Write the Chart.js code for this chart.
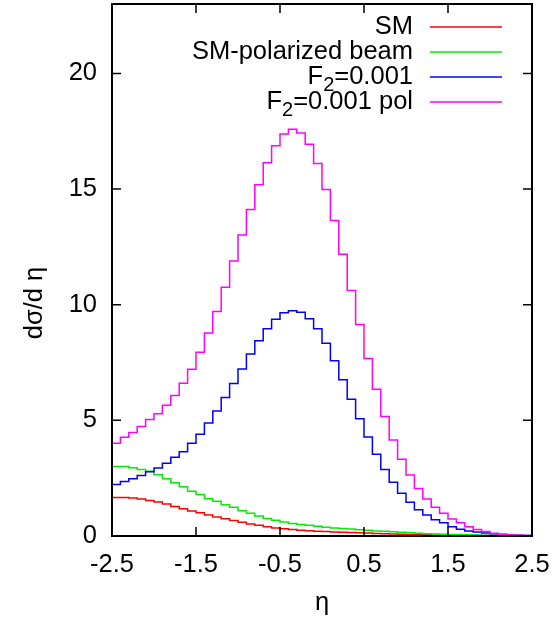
<!DOCTYPE html>
<html><head><meta charset="utf-8">
<script src="https://cdn.jsdelivr.net/npm/chart.js@4/dist/chart.umd.min.js"></script>
<style>html,body{margin:0;padding:0;background:#fff;}#wrap{width:556px;height:621px;position:relative;}</style>
</head><body><div id="wrap"><canvas id="c" width="556" height="621"></canvas></div>
<script>
// bin edges in eta (50 bins of width 0.1)
const etaEdges = [-2.5,-2.4,-2.3,-2.2,-2.1,-2.0,-1.9,-1.8,-1.7,-1.6,-1.5,-1.4,-1.3,-1.2,-1.1,-1.0,-0.9,-0.8,-0.7,-0.6,-0.5,-0.4,-0.3,-0.2,-0.1,0.0,0.1,0.2,0.3,0.4,0.5,0.6,0.7,0.8,0.9,1.0,1.1,1.2,1.3,1.4,1.5,1.6,1.7,1.8,1.9,2.0,2.1,2.2,2.3,2.4,2.5];

const smValues = [1.66,1.66,1.64,1.60,1.54,1.47,1.38,1.28,1.18,1.08,1.01,0.91,0.82,0.75,0.67,0.59,0.52,0.46,0.40,0.35,0.31,0.28,0.25,0.23,0.21,0.19,0.17,0.16,0.15,0.14,0.13,0.11,0.10,0.09,0.08,0.07,0.06,0.05,0.04,0.04,0.03,0.03,0.02,0.02,0.02,0.01,0.01,0.01,0.01,0.00];
const smPolValues = [3.00,3.00,2.95,2.87,2.80,2.65,2.48,2.30,2.13,1.93,1.79,1.61,1.50,1.35,1.24,1.09,0.98,0.86,0.76,0.68,0.61,0.54,0.50,0.46,0.42,0.38,0.35,0.32,0.30,0.27,0.25,0.22,0.20,0.18,0.16,0.14,0.12,0.10,0.09,0.08,0.07,0.06,0.05,0.04,0.03,0.03,0.02,0.02,0.01,0.01];
const f2Values = [2.23,2.36,2.48,2.62,2.78,2.94,3.14,3.40,3.64,4.01,4.40,4.89,5.40,5.99,6.59,7.22,7.87,8.44,8.96,9.37,9.65,9.74,9.67,9.39,8.96,8.33,7.58,6.76,5.91,5.07,4.28,3.53,2.88,2.32,1.85,1.46,1.14,0.91,0.70,0.57,0.40,0.29,0.22,0.17,0.13,0.10,0.07,0.05,0.03,0.02];
const f2PolValues = [4.01,4.27,4.48,4.73,5.04,5.29,5.65,6.07,6.60,7.21,7.94,8.78,9.71,10.75,11.89,13.01,14.12,15.19,16.14,16.87,17.38,17.58,17.42,16.94,16.10,14.98,13.64,12.18,10.61,9.14,7.67,6.34,5.17,4.15,3.32,2.64,2.05,1.60,1.24,0.98,0.74,0.57,0.40,0.28,0.19,0.12,0.08,0.05,0.03,0.02];

const seriesLabels = ['SM','SM-polarized beam','F\u2082=0.001','F\u2082=0.001 pol'];
const seriesColors = ['#ff0000','#00ee00','#0000ff','#ff00ff'];
const xTickValues = [-2.5,-1.5,-0.5,0.5,1.5,2.5];
const yTickValues = [0,5,10,15,20];
const xTitle = '\u03b7';
const yTitle = 'd\u03c3/d \u03b7';

const FONT = "'Liberation Sans', Arial, Helvetica, sans-serif";
const FS = 25.5;

function stepPoints(vals){
  return etaEdges.map((x,i)=>({x:x, y: vals[Math.min(i, vals.length-1)]}));
}
const allSeries = [smValues, smPolValues, f2Values, f2PolValues];
const datasets = allSeries.map((vals,i)=>({
  label: seriesLabels[i],
  data: stepPoints(vals),
  borderColor: seriesColors[i],
  backgroundColor: seriesColors[i],
  borderWidth: 1.5,
  pointRadius: 0,
  fill: false,
  stepped: 'before',
  order: 4 - i
}));

const framePlugin = {
  id: 'frame',
  afterDraw(chart){
    const ctx = chart.ctx, a = chart.chartArea;
    const xs = chart.scales.x, ys = chart.scales.y;
    ctx.save();
    ctx.strokeStyle = '#000';
    ctx.lineWidth = 1.5;
    const TL = 9;
    ctx.beginPath();
    xTickValues.forEach(v=>{
      const px = xs.getPixelForValue(v);
      ctx.moveTo(px, a.bottom); ctx.lineTo(px, a.bottom - TL);
      ctx.moveTo(px, a.top); ctx.lineTo(px, a.top + TL);
    });
    yTickValues.forEach(v=>{
      const py = ys.getPixelForValue(v);
      ctx.moveTo(a.left, py); ctx.lineTo(a.left + TL, py);
      ctx.moveTo(a.right, py); ctx.lineTo(a.right - TL, py);
    });
    ctx.stroke();
    ctx.lineWidth = 2;
    ctx.strokeRect(a.left, a.top, a.right - a.left, a.bottom - a.top);

    // y-axis title (gnuplot places it around the middle of the canvas)
    ctx.fillStyle = '#000';
    ctx.font = FS + 'px ' + FONT;
    ctx.textAlign = 'center';
    ctx.textBaseline = 'middle';
    ctx.save();
    ctx.translate(35, 303);
    ctx.rotate(-Math.PI/2);
    ctx.fillText(yTitle, 0, 0);
    ctx.restore();

    // key (legend), gnuplot style: right-aligned text, line sample to the right
    const textRight = 413, lineX0 = 430, lineX1 = 502;
    const rows = [27, 52, 77, 102];
    ctx.textBaseline = 'middle';
    chart.data.datasets.forEach((ds,i)=>{
      const y = rows[i];
      const parts = ds.label.split('\u2082');
      ctx.fillStyle = '#000';
      ctx.font = FS + 'px ' + FONT;
      if (parts.length === 2){
        const w0 = ctx.measureText(parts[0]).width;
        const w2 = ctx.measureText(parts[1]).width;
        ctx.font = Math.round(FS*0.8) + 'px ' + FONT;
        const ws = ctx.measureText('2').width;
        let x = textRight - (w0 + ws + w2);
        ctx.font = FS + 'px ' + FONT;
        ctx.textAlign = 'left';
        ctx.fillText(parts[0], x, y);
        x += w0;
        ctx.font = Math.round(FS*0.8) + 'px ' + FONT;
        ctx.fillText('2', x, y + 8);
        x += ws;
        ctx.font = FS + 'px ' + FONT;
        ctx.fillText(parts[1], x, y);
      } else {
        ctx.textAlign = 'right';
        ctx.fillText(ds.label, textRight, y);
      }
      ctx.strokeStyle = ds.borderColor;
      ctx.lineWidth = 1.5;
      ctx.beginPath();
      ctx.moveTo(lineX0, y); ctx.lineTo(lineX1, y);
      ctx.stroke();
    });
    ctx.restore();
  }
};

new Chart(document.getElementById('c'), {
  type: 'line',
  data: { datasets },
  options: {
    responsive: false,
    animation: false,
    devicePixelRatio: 1,
    layout: { padding: { top: 4, right: 24, left: 0, bottom: 0 } },
    plugins: { legend: { display: false }, tooltip: { enabled: false } },
    scales: {
      x: {
        type: 'linear', min: -2.5, max: 2.5,
        afterBuildTicks: s => { s.ticks = xTickValues.map(v=>({value:v})); },
        afterFit: s => { s.height = 85; s.paddingLeft = 0; s.paddingRight = 0; },
        grid: { display: false, drawTicks: false },
        border: { display: false },
        ticks: { callback: v => Number(v).toFixed(1), color: '#000', font: { family: FONT, size: FS }, padding: 14, maxRotation: 0, autoSkip: false },
        title: { display: true, text: xTitle, color: '#000', font: { family: FONT, size: FS }, padding: { top: 0, bottom: 3 } }
      },
      y: {
        type: 'linear', min: 0, max: 23,
        afterBuildTicks: s => { s.ticks = yTickValues.map(v=>({value:v})); },
        afterFit: s => { s.width = 112; s.paddingTop = 0; s.paddingBottom = 0; },
        grid: { display: false, drawTicks: false },
        border: { display: false },
        ticks: { callback: v => String(v), color: '#000', font: { family: FONT, size: FS }, padding: 15 },
        title: { display: false, text: yTitle }
      }
    }
  },
  plugins: [framePlugin]
});
</script>
</body></html>
